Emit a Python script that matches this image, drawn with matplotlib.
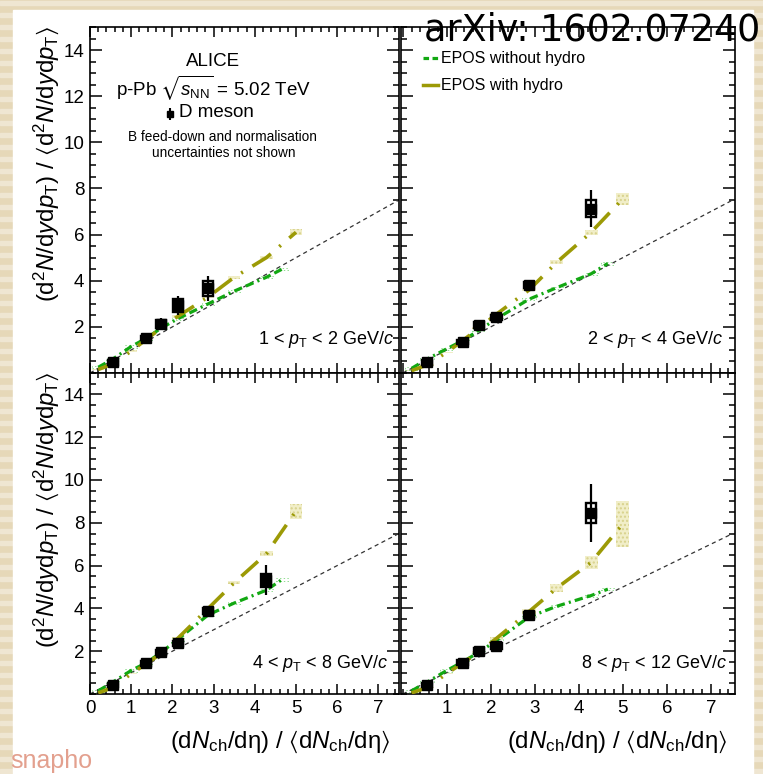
import matplotlib
matplotlib.use("Agg")
import matplotlib.pyplot as plt
from matplotlib.patches import Rectangle
from matplotlib.ticker import MultipleLocator, FixedLocator

plt.rcParams["font.family"] = ["Liberation Sans", "DejaVu Sans"]
plt.rcParams["mathtext.fontset"] = "custom"
plt.rcParams["mathtext.rm"] = "Liberation Sans"
plt.rcParams["mathtext.it"] = "Liberation Sans:italic"
plt.rcParams["mathtext.bf"] = "Liberation Sans:bold"
plt.rcParams["mathtext.fallback"] = "stixsans"
plt.rcParams["lines.scale_dashes"] = False

# D-meson multiplicity classes
d_x = [0.55, 1.36, 1.73, 2.13, 2.87, 4.28]

# self-normalised yields per pT bin (value, stat, syst)
d_y_1_2 = [0.46, 1.50, 2.12, 2.93, 3.67]
d_stat_1_2 = [0.05, 0.07, 0.27, 0.42, 0.55]
d_syst_1_2 = [0.10, 0.09, 0.17, 0.27, 0.32]

d_y_2_4 = [0.46, 1.35, 2.08, 2.41, 3.82, 7.13]
d_stat_2_4 = [0.05, 0.06, 0.08, 0.10, 0.12, 0.80]
d_syst_2_4 = [0.10, 0.10, 0.12, 0.12, 0.12, 0.36]

d_y_4_8 = [0.42, 1.43, 1.95, 2.36, 3.87, 5.31]
d_stat_4_8 = [0.05, 0.06, 0.08, 0.10, 0.15, 0.70]
d_syst_4_8 = [0.10, 0.10, 0.12, 0.13, 0.15, 0.29]

d_y_8_12 = [0.42, 1.46, 2.00, 2.23, 3.68, 8.45]
d_stat_8_12 = [0.05, 0.07, 0.08, 0.10, 0.15, 1.35]
d_syst_8_12 = [0.10, 0.12, 0.13, 0.13, 0.15, 0.47]

# EPOS with hydro
hyd_x = [0.2, 0.55, 1.0, 1.36, 1.73, 2.13, 2.87, 3.5, 4.28, 5.0]
hyd_1_2 = [0.15, 0.40, 0.95, 1.45, 1.95, 2.45, 3.30, 4.15, 5.00, 6.10]
hyd_err_1_2 = [0.02, 0.03, 0.03, 0.03, 0.04, 0.05, 0.06, 0.06, 0.07, 0.13]
hyd_2_4 = [0.10, 0.35, 0.90, 1.40, 1.95, 2.55, 3.60, 4.80, 6.10, 7.55]
hyd_err_2_4 = [0.02, 0.03, 0.03, 0.03, 0.04, 0.05, 0.06, 0.08, 0.10, 0.25]
hyd_4_8 = [0.05, 0.30, 0.95, 1.40, 1.90, 2.60, 4.00, 5.20, 6.55, 8.55]
hyd_err_4_8 = [0.02, 0.03, 0.03, 0.03, 0.04, 0.06, 0.06, 0.08, 0.12, 0.35]
hyd_8_12 = [0.05, 0.30, 0.95, 1.45, 1.95, 2.60, 3.85, 4.95, 6.15, 7.95]
hyd_err_8_12 = [0.02, 0.03, 0.03, 0.03, 0.05, 0.07, 0.12, 0.18, 0.32, 1.08]

# EPOS without hydro
noh_x = [0.2, 0.55, 1.0, 1.36, 1.73, 2.13, 2.87, 3.5, 4.28, 4.66]
noh_1_2 = [0.25, 0.60, 1.15, 1.50, 1.95, 2.35, 3.00, 3.55, 4.15, 4.50]
noh_2_4 = [0.20, 0.60, 1.05, 1.40, 1.85, 2.35, 3.20, 3.70, 4.30, 4.75]
noh_4_8 = [0.15, 0.55, 1.10, 1.45, 1.95, 2.55, 3.70, 4.25, 4.85, 5.35]
noh_8_12 = [0.15, 0.55, 1.10, 1.50, 1.95, 2.50, 3.60, 4.10, 4.60, 4.90]

pt_labels = [r"1 < $p_{\rm T}$ < 2 GeV/$c$", r"2 < $p_{\rm T}$ < 4 GeV/$c$",
             r"4 < $p_{\rm T}$ < 8 GeV/$c$", r"8 < $p_{\rm T}$ < 12 GeV/$c$"]

W, H = 763, 774
fig = plt.figure(figsize=(W / 100, H / 100), dpi=100)

# slide background
fig.patches.append(Rectangle((0, 0), 1, 1, transform=fig.transFigure,
                             color="#e6d8b8", zorder=-20))
for yy in range(0, H, 12):
    fig.patches.append(Rectangle((0, 1 - (yy + 5) / H), 1, 4 / H,
                                 transform=fig.transFigure, color="#efe6d2",
                                 zorder=-19))
fig.patches.append(Rectangle((13 / W, 0), 740 / W, 1 - 10 / H,
                             transform=fig.transFigure, color="white",
                             zorder=-18))


def add_axes(x0, y0, x1, y1):
    return fig.add_axes([x0 / W, 1 - y1 / H, (x1 - x0) / W, (y1 - y0) / H])


axes = [add_axes(90, 27, 399, 373), add_axes(401, 27, 735, 373),
        add_axes(90, 373, 399, 694), add_axes(401, 373, 735, 694)]

green = "#12a812"
olive = "#9c9a06"

panels = [
    (d_y_1_2, d_stat_1_2, d_syst_1_2, hyd_1_2, hyd_err_1_2, noh_1_2),
    (d_y_2_4, d_stat_2_4, d_syst_2_4, hyd_2_4, hyd_err_2_4, noh_2_4),
    (d_y_4_8, d_stat_4_8, d_syst_4_8, hyd_4_8, hyd_err_4_8, noh_4_8),
    (d_y_8_12, d_stat_8_12, d_syst_8_12, hyd_8_12, hyd_err_8_12, noh_8_12),
]
label_x = [0.985, 0.963, 0.965, 0.975]

for i, (ax, (dy, dst, dsy, hy, he, ny)) in enumerate(zip(axes, panels)):
    left = i % 2 == 0
    bottom = i >= 2
    ax.set_xlim(0, 7.5) if left else ax.set_xlim(-0.04, 7.55)
    ax.set_ylim(0, 15)

    # y = x reference
    ax.plot([0, 7.5], [0, 7.5], color="#333333", lw=0.9, dashes=(3, 2.5),
            zorder=2)

    # model bands
    for x, y, e in zip(hyd_x, hy, he):
        ax.add_patch(Rectangle((x - 0.15, y - e), 0.3, 2 * e,
                               facecolor="#f1eec8", edgecolor="#d8d28c",
                               hatch="....", lw=0, zorder=1))
    for x, y in zip(noh_x, ny):
        ax.add_patch(Rectangle((x - 0.15, y - 0.05), 0.3, 0.1, fill=False,
                               edgecolor="#8fdc8f", lw=0.7, ls=":", zorder=1))

    ax.plot(noh_x, ny, color=green, lw=2.3, dashes=(6, 3, 6, 3, 1.5, 3),
            zorder=3)
    ax.plot(hyd_x, hy, color=olive, lw=2.6, dashes=(16, 8, 1.5, 8), zorder=3)

    # data
    n = len(dy)
    for x, y, s in zip(d_x[:n], dy, dsy):
        ax.add_patch(Rectangle((x - 0.12, y - s), 0.24, 2 * s, fill=False,
                               edgecolor="black", lw=1.7, zorder=5))
    ax.errorbar(d_x[:n], dy, yerr=dst, fmt="s", color="black", ms=6.5,
                elinewidth=1.6, capsize=0, zorder=6)

    ax.text(label_x[i], 0.096, pt_labels[i], transform=ax.transAxes,
            ha="right", va="center", fontsize=13)

    # ROOT style ticks
    ax.xaxis.set_major_locator(MultipleLocator(1))
    ax.xaxis.set_minor_locator(MultipleLocator(0.2))
    ax.yaxis.set_major_locator(FixedLocator([2, 4, 6, 8, 10, 12, 14]))
    ax.yaxis.set_minor_locator(MultipleLocator(0.5))
    ax.tick_params(which="both", direction="in", top=True, right=True,
                   width=1.1, labelsize=13.5, pad=4)
    ax.xaxis.set_tick_params(which="major", length=7)
    ax.xaxis.set_tick_params(which="minor", length=3.8)
    ax.yaxis.set_tick_params(which="major", length=8.5)
    ax.yaxis.set_tick_params(which="minor", length=4.3)
    for sp in ax.spines.values():
        sp.set_linewidth(1.2)
    if not left:
        ax.tick_params(labelleft=False)
    if not bottom:
        ax.tick_params(labelbottom=False)
    elif not left:
        ax.xaxis.set_major_locator(FixedLocator([1, 2, 3, 4, 5, 6, 7]))

ylab = (r"(d$^{2}N$/d$y$d$p_{\rm T}$) / $\langle$d$^{2}N$/d$y$d$p_{\rm T}$"
        r"$\rangle$")
xlab = (r"(d$N_{\rm ch}$/d$\mathrm{\eta}$) / "
        r"$\langle$d$N_{\rm ch}$/d$\mathrm{\eta}\rangle$")
for ax in (axes[0], axes[2]):
    ax.text(-0.14, 1.005, ylab, transform=ax.transAxes, rotation=90,
            ha="center", va="top", fontsize=17.3)
for ax, xr in ((axes[2], 0.97), (axes[3], 0.977)):
    ax.text(xr, -0.15, xlab, transform=ax.transAxes, ha="right",
            va="center", fontsize=17.3)

# header text, first panel
ax = axes[0]
ax.text(0.398, 0.899, "ALICE", transform=ax.transAxes, ha="center",
        va="center", fontsize=13.5)
ax.text(0.401, 0.824, r"p-Pb $\sqrt{s_{\rm NN}}$ = 5.02 TeV",
        transform=ax.transAxes, ha="center", va="center", fontsize=13.5)
ax.errorbar([0.259], [0.748], yerr=[0.018], fmt="s", color="black", ms=5,
            elinewidth=1.5, capsize=0, transform=ax.transAxes)
ax.text(0.288, 0.752, "D meson", transform=ax.transAxes, ha="left",
        va="center", fontsize=13.5)
ax.text(0.427, 0.683, "B feed-down and normalisation", transform=ax.transAxes,
        ha="center", va="center", fontsize=9.8)
ax.text(0.434, 0.636, "uncertainties not shown", transform=ax.transAxes,
        ha="center", va="center", fontsize=9.8)

# legend, second panel
ax = axes[1]
ax.plot([0.066, 0.111], [0.91, 0.91], color=green, lw=2.3,
        dashes=(4, 2.5, 4, 2.5, 1.5, 2.5), transform=ax.transAxes)
ax.text(0.12, 0.91, "EPOS without hydro", transform=ax.transAxes,
        ha="left", va="center", fontsize=11.5)
ax.plot([0.066, 0.111], [0.832, 0.832], color=olive, lw=2.5,
        transform=ax.transAxes)
ax.text(0.12, 0.832, "EPOS with hydro", transform=ax.transAxes,
        ha="left", va="center", fontsize=11.5)

fig.text(760 / W, 1 - 30 / H, "arXiv: 1602.07240", ha="right", va="center",
         fontsize=26.3, family="DejaVu Sans", zorder=10)
fig.text(10 / W, 1 - 773 / H, "snapho", ha="left", va="bottom", fontsize=18,
         color="#e3a08e", zorder=10)

fig.savefig("out.png", dpi=100)
